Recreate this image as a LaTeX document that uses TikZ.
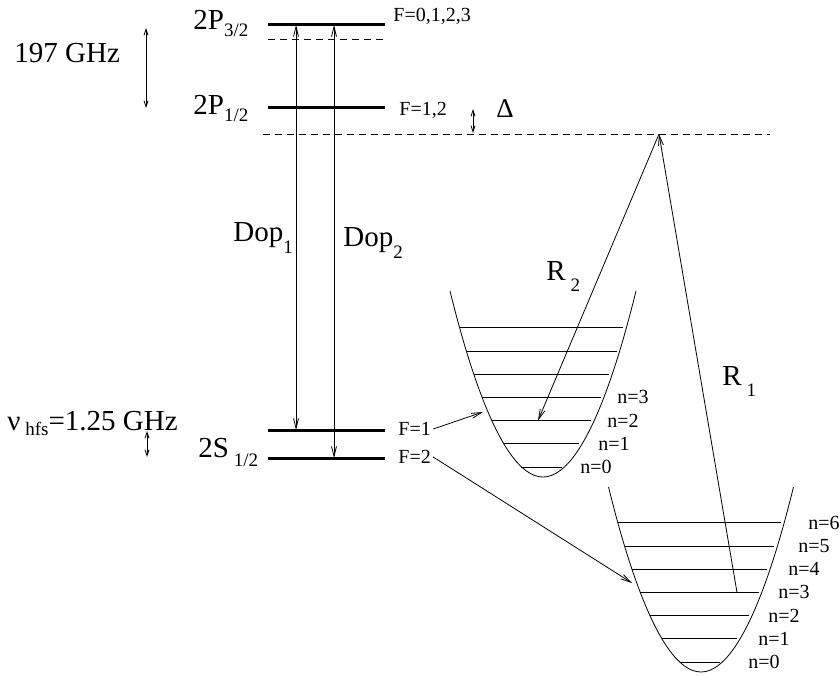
\documentclass[tikz,border=0pt]{standalone}
\usepackage{fontspec}
\setmainfont{Liberation Serif}
\usetikzlibrary{arrows.meta}
\newcommand{\dn}[2]{\raisebox{-#1pt}{\fontsize{19}{19}\selectfont #2}}
\tikzset{
  stateline/.style={line width=3pt},
  virtline/.style={dash pattern=on 7pt off 5pt,line width=0.8pt},
  big/.style={font=\fontsize{29}{29}\selectfont,anchor=base west,inner sep=0pt},
  small/.style={font=\fontsize{20}{20}\selectfont,anchor=west,inner sep=2pt},
  quant/.style={font=\fontsize{20}{20}\selectfont,anchor=west,inner sep=0pt},
  gap/.style={<->,>={Straight Barb[length=6pt,width=4pt]}},
}
\begin{document}
\begin{tikzpicture}[x=1pt,y=-1pt,line width=0.8pt,>={Straight Barb[length=10pt,width=5pt]}]
  \useasboundingbox (0,0) rectangle (840,676);
  % levels
  \coordinate (P32) at (268,25);
  \coordinate (P12) at (268,108);
  \coordinate (S1) at (268,430);
  \coordinate (S2) at (268,458);
  \draw[stateline] (P32) -- +(117,0);
  \draw[stateline] (P12) -- +(117,0);
  \draw[stateline] (S1) -- +(117,0);
  \draw[stateline] (S2) -- +(117,0);
  \draw[virtline] (268,39) -- (385,39);
  \coordinate (apex) at (659,134);
  \draw[virtline] (263,134) -- (770,134);
  % level labels
  \node[big] (lp32) at (193,30) {2P\dn{7}{3/2}};
  \node[big] (lp12) at (193,115) {2P\dn{7}{1/2}};
  \node[big] (ls12) at (198,457) {2S\,\dn{9}{1/2}};
  \node[small] (fp32) at (391,16) {F=0,1,2,3};
  \node[small] (fp12) at (397,110) {F=1,2};
  \node[small] (fone) at (396,429) {F=1};
  \node[small] (ftwo) at (396,457) {F=2};
  % splittings
  \node[big] (ghz) at (14,63) {197 GHz};
  \draw[gap] (146,28) -- (146,108);
  \node[big] (hfs) at (7,430) {ν\,\dn{5}{hfs}=1.25 GHz};
  \draw[gap] (147,431) -- (147,457);
  \draw[gap] (473,109) -- (473,133);
  \node[big,font=\fontsize{27}{27}\selectfont] (delta) at (496,118) {Δ};
  % Doppler beams
  \coordinate (d1) at (296,0);
  \coordinate (d2) at (334,0);
  \draw[<->] (d1 |- P32) -- (d1 |- S1);
  \draw[<->] (d2 |- P32) -- (d2 |- S2);
  \node[big] (dop1) at (233,242) {Dop\dn{12}{1}};
  \node[big] (dop2) at (343,247) {Dop\dn{12}{2}};
  % traps
  \draw (450,291) parabola bend (543,477) (636,291);
  \draw (608.5,487) parabola bend (701,672) (793.5,487);
  \foreach \n in {0,...,6}{
    \pgfmathsetmacro\h{10+23.2*\n}
    \pgfmathsetmacro\wa{93*sqrt(\h/186)}
    \pgfmathsetmacro\wb{92.5*sqrt(\h/185)}
    \draw ({543-\wa},{477-\h}) -- ({543+\wa-3},{477-\h});
    \draw ({701-\wb},{672-\h}) -- ({701+\wb-3},{672-\h});
    \node[quant] (nb\n) at ({748+10*\n},{672-\h}) {n=\n};
  }
  \foreach \n/\lx in {0/580,1/598,2/607,3/617}
    \node[quant] (na\n) at (\lx,{467-23.2*\n}) {n=\n};
  % transfer and Raman beams
  \coordinate (trapa) at (483,412);
  \coordinate (trapb) at (632,583);
  \draw[->] (fone.east) -- (trapa);
  \draw[->] (ftwo.east) -- (trapb);
  \coordinate (r2end) at (538,420.6);
  \coordinate (r1end) at (737,592.4);
  \draw[->] (apex) -- (r2end);
  \draw[->] (r1end) -- (apex);
  \node[big] (rtwo) at (546,280) {R\,\dn{11}{2}};
  \node[big] (rone) at (722,385) {R\,\dn{11}{1}};
\end{tikzpicture}
\end{document}
